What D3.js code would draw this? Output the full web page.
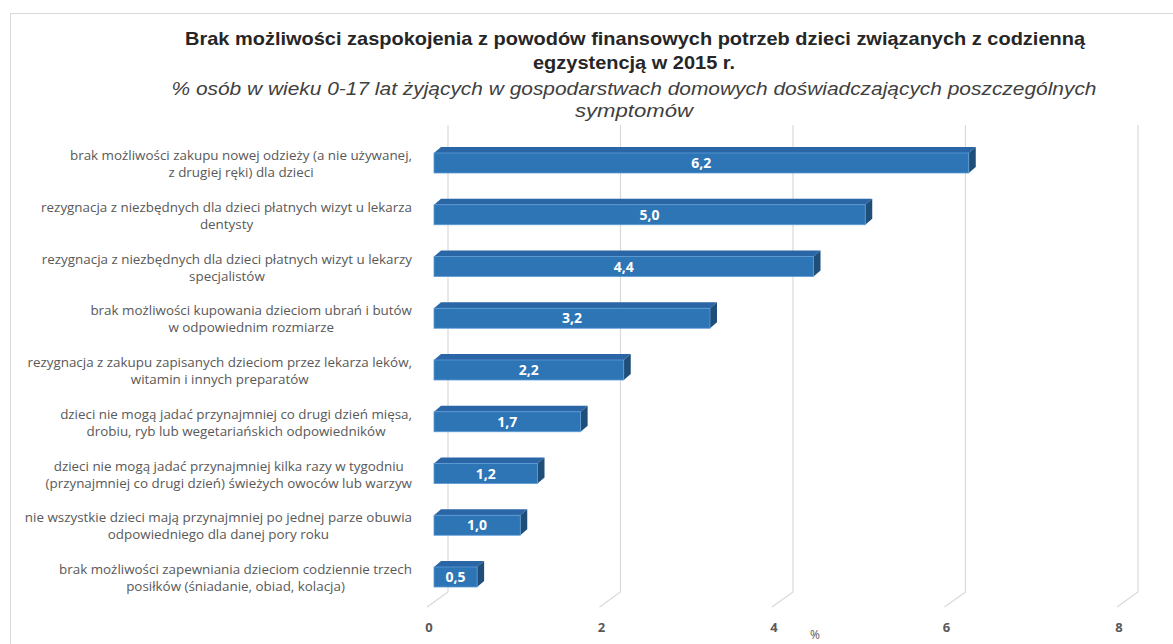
<!DOCTYPE html>
<html><head><meta charset="utf-8">
<script src="https://cdn.jsdelivr.net/npm/d3@7"></script>
<style>body{margin:0;background:#fff}svg{display:block}</style>
</head><body>
<svg id="c" width="1173" height="644"></svg>
<script>
const categories = [
  ["brak możliwości zakupu nowej odzieży (a nie używanej,", "z drugiej ręki) dla dzieci"],
  ["rezygnacja z niezbędnych dla dzieci płatnych wizyt u lekarza", "dentysty"],
  ["rezygnacja z niezbędnych dla dzieci płatnych wizyt u lekarzy", "specjalistów"],
  ["brak możliwości kupowania dzieciom ubrań i butów", "w odpowiednim rozmiarze"],
  ["rezygnacja z zakupu zapisanych dzieciom przez lekarza leków,", "witamin i innych preparatów"],
  ["dzieci nie mogą jadać przynajmniej co drugi dzień mięsa,", "drobiu, ryb lub wegetariańskich odpowiedników"],
  ["dzieci nie mogą jadać przynajmniej kilka razy w tygodniu", "(przynajmniej co drugi dzień) świeżych owoców lub warzyw"],
  ["nie wszystkie dzieci mają przynajmniej po jednej parze obuwia", "odpowiedniego dla danej pory roku"],
  ["brak możliwości zapewniania dzieciom codziennie trzech", "posiłków (śniadanie, obiad, kolacja)"]
];
const values = [6.2, 5.0, 4.4, 3.2, 2.2, 1.7, 1.2, 1.0, 0.5];
const ticks = [0, 2, 4, 6, 8];
const titleLines = ["Brak możliwości zaspokojenia z powodów finansowych potrzeb dzieci związanych z codzienną", "egzystencją w 2015 r."];
const subtitleLines = ["% osób w wieku 0-17 lat żyjących w gospodarstwach domowych doświadczających poszczególnych", "symptomów"];
const axisTitle = "%";

const svg = d3.select("#c");
const fmt = v => d3.format(".1f")(v).replace(".", ",");

svg.append("rect").attr("x", 10.5).attr("y", 13.5).attr("width", 1180).attr("height", 640)
  .attr("fill", "none").attr("stroke", "#d9d9d9");

const x = d3.scaleLinear().domain([0, 8]).range([434, 1124]);
const ids = categories.map((d, i) => i);
const y = d3.scalePoint().domain(ids).range([163, 577]);
const barH = 20, dx = 7, dy = 6;
const gBack = 14, gFront = -7, gTop = 125, gBackY = 592, gFrontY = 607;

const grid = svg.append("g");
ticks.forEach(t => {
  grid.append("path")
    .attr("d", `M${x(t) + gBack},${gTop} L${x(t) + gBack},${gBackY} L${x(t) + gFront},${gFrontY}`)
    .attr("fill", "none").attr("stroke", "#d9d9d9").attr("stroke-width", 1.2);
});

svg.append("g").selectAll("text").data(ticks).join("text")
  .attr("x", d => x(d) - 5).attr("y", 632)
  .attr("text-anchor", "middle")
  .attr("font-family", "Open Sans, sans-serif").attr("font-size", 13).attr("font-weight", 700)
  .attr("fill", "#595959").text(d => d);
svg.append("text").attr("x", 815).attr("y", 639).attr("text-anchor", "middle")
  .attr("font-family", "Open Sans, sans-serif").attr("font-size", 12).attr("fill", "#595959").text(axisTitle);

const bars = svg.append("g").selectAll("g").data(values).join("g");
bars.each(function (v, i) {
  const g = d3.select(this);
  const x0 = x(0), x1 = x(v), yt = y(i) - barH / 2, yb = yt + barH;
  g.append("polygon")
    .attr("points", `${x0},${yt} ${x0 + dx},${yt - dy} ${x1 + dx},${yt - dy} ${x1},${yt}`)
    .attr("fill", "#2a66a6");
  g.append("polygon")
    .attr("points", `${x1},${yt} ${x1 + dx},${yt - dy} ${x1 + dx},${yb - dy} ${x1},${yb}`)
    .attr("fill", "#1f4e79");
  g.append("rect").attr("x", x0).attr("y", yt).attr("width", x1 - x0).attr("height", barH)
    .attr("fill", "#2e75b6").attr("stroke", "#5b9bd5").attr("stroke-width", 0.8);
  g.append("text").attr("x", (x0 + x1) / 2).attr("y", y(i) + 5)
    .attr("text-anchor", "middle")
    .attr("font-family", "Open Sans, sans-serif").attr("font-size", 14).attr("font-weight", 700)
    .attr("fill", "#ffffff").text(fmt(v));
});

const labG = svg.append("g");
categories.forEach((lines, i) => {
  const tmp = lines.map(l => labG.append("text")
    .attr("font-family", "Open Sans, sans-serif").attr("font-size", 13.4)
    .attr("fill", "#595959").attr("text-anchor", "middle").text(l));
  const widths = tmp.map(t => t.node().getComputedTextLength());
  const maxW = d3.max(widths);
  const cx = 412 - maxW / 2;
  tmp.forEach((t, k) => t.attr("x", cx).attr("y", y(i) - 3 + k * 17));
});

function condensed(txt, cx, cy, size, weight, style, color, target) {
  svg.append("text").attr("x", cx).attr("y", cy)
    .attr("text-anchor", "middle")
    .attr("font-family", "Liberation Sans, sans-serif")
    .attr("font-size", size).attr("font-weight", weight).attr("font-style", style)
    .attr("fill", color).attr("textLength", target).attr("lengthAdjust", "spacingAndGlyphs")
    .text(txt);
}
condensed(titleLines[0], 635, 45, 18.5, 700, "normal", "#262626", 900);
condensed(titleLines[1], 634, 69, 18.5, 700, "normal", "#262626", 202);
condensed(subtitleLines[0], 634, 95, 18.5, 400, "italic", "#404040", 925);
condensed(subtitleLines[1], 634, 117, 18.5, 400, "italic", "#404040", 118);
</script>
</body></html>
